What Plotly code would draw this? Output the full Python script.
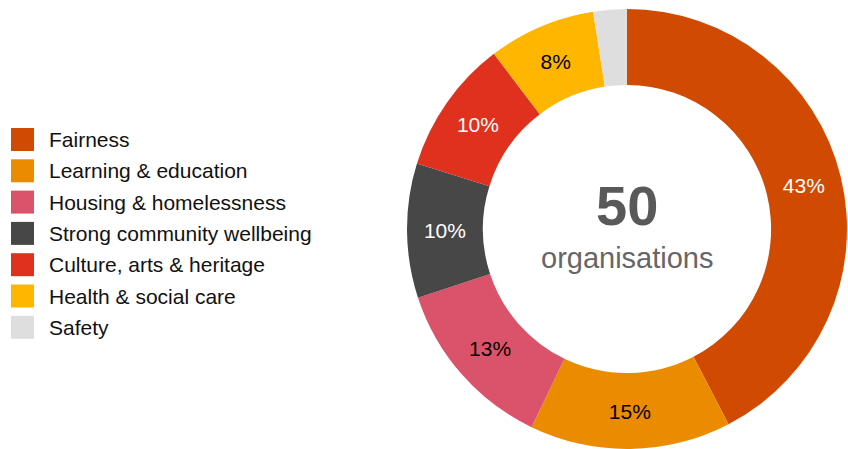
import plotly.graph_objects as go

# Share of organisations by focus area (percent)
categories = [
    "Fairness",
    "Learning & education",
    "Housing & homelessness",
    "Strong community wellbeing",
    "Culture, arts & heritage",
    "Health & social care",
    "Safety",
]
shares = [43, 15, 13, 10, 10, 8, 2.5]
slice_labels = ["43%", "15%", "13%", "10%", "10%", "8%", ""]
colors = ["#D04A02", "#EB8C00", "#DB536A", "#474747", "#E0301E", "#FFB600", "#DEDEDE"]
label_colors = ["#FFFFFF", "#000000", "#000000", "#FFFFFF", "#FFFFFF", "#000000", "#000000"]
total_orgs = 50

W, H = 848, 449
FONT = "Liberation Sans, Arial, sans-serif"

fig = go.Figure(
    go.Pie(
        labels=categories,
        values=shares,
        text=slice_labels,
        texttemplate="%{text}",
        textposition="inside",
        insidetextorientation="horizontal",
        insidetextfont=dict(family=FONT, size=21, color=label_colors),
        marker=dict(colors=colors, line=dict(width=0)),
        hole=0.655,
        sort=False,
        direction="clockwise",
        rotation=0,
        domain=dict(x=[407 / W, 847 / W], y=[0, 440 / H]),
        showlegend=False,
        hoverinfo="label+text",
    )
)

# Centre caption
fig.add_annotation(
    x=627 / W, y=1 - 205 / H, xref="paper", yref="paper",
    text=f"<b>{total_orgs}</b>", showarrow=False,
    font=dict(family=FONT, size=56, color="#595959"),
    xanchor="center", yanchor="middle",
)
fig.add_annotation(
    x=627 / W, y=1 - 258 / H, xref="paper", yref="paper",
    text="organisations", showarrow=False,
    font=dict(family=FONT, size=29, color="#666666"),
    xanchor="center", yanchor="middle",
)

# Legend: coloured squares with category names
row0, row_gap, box = 139.5, 31.3, 23
for i, (name, col) in enumerate(zip(categories, colors)):
    yc = row0 + i * row_gap
    fig.add_shape(
        type="rect", xref="paper", yref="paper",
        x0=11 / W, x1=(11 + box) / W,
        y0=1 - (yc + box / 2) / H, y1=1 - (yc - box / 2) / H,
        fillcolor=col, line=dict(width=0),
    )
    fig.add_annotation(
        x=47 / W, y=1 - yc / H, xref="paper", yref="paper",
        text=name, showarrow=False,
        font=dict(family=FONT, size=21, color="#111111"),
        xanchor="left", yanchor="middle",
    )

fig.update_layout(
    width=W, height=H,
    margin=dict(l=0, r=0, t=0, b=0),
    paper_bgcolor="white",
    plot_bgcolor="white",
)

fig.write_html("out.html")
